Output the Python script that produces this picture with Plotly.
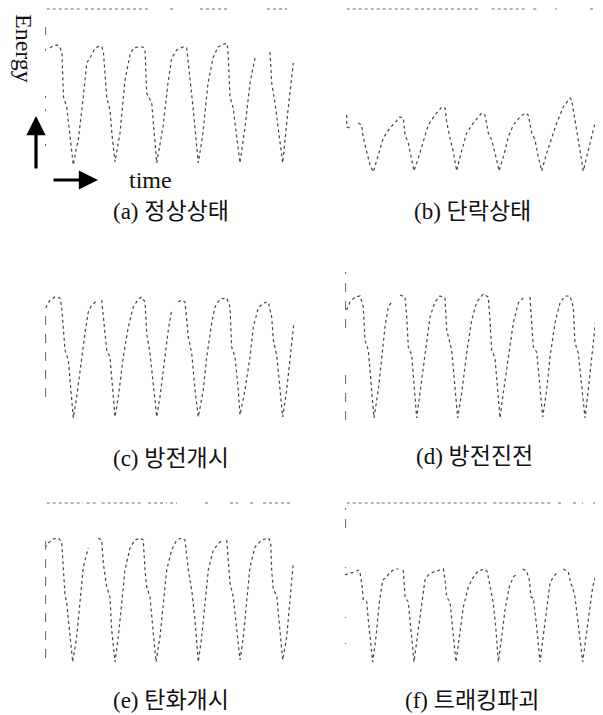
import plotly.graph_objects as go

# ---------------- data (time, energy) per panel; None = gap in the trace ----------------
A_TIME = [5, 8, 12, 15, 17, 18.5, 21.7, 25, 28.3, 31, 33.3, 38.3, 41.7, 46.7, 50, 55, 57, 58.5, 61.7, 65, 67, 70,
          75, 80, 85, 88.3, 93, 98, 100, 101.7, 106.7, 111.7, 118, 123, 126.7, 131.7, 138, 141.7, 143, 146.7, 148, 153.3,
          158, 163, 168, 173, 181.7, 183, 185, 188, 195, 200, 205, 210, None, 225, 226.7, 230, 237.7, 243, 248.3]
A_ENERGY = [127, 129, 130, 128, 121, 78, 68, 40, 10, 25, 35, 78, 112, 120, 127, 129, 128, 122, 78, 65, 40, 13,
            42, 95, 120, 127, 128, 128, 125, 82, 72, 12, 48, 92, 117, 125, 128, 127, 115, 75, 68, 12,
            42, 92, 117, 128, 132, 125, 78, 68, 12, 48, 92, 117, None, 123, 92, 72, 12, 65, 112]

B_TIME = [1.7, 1.7, 5, None, 13.3, 16.7, 18.3, 21.7, 25, 28.3, 33.3, 38.3, 45, 51.7, 55, 58.3, 60, 63.3, 66.7, 69,
          73.3, 78.3, 83.3, 90, 96.7, 100, 101.7, 105, 108.3, 111.7, 115, 121.7, 128.3, 136.7, 140, 143.3, 146.7, 151.7, 154,
          158.3, 163.3, 168.3, 175, 180, 183.3, 186.7, 190, 193.3, 196.7, 201.7, 206.7, 211.7, 218.3, 225, 226.7, 230, 233.3,
          236.7, 238.3, 241.7, 246.7, 250]
B_ENERGY = [60, 48, 47, None, 52, 50, 37, 23, 10, 3, 20, 37, 47, 55, 58, 57, 40, 32, 15, 4,
            17, 33, 50, 60, 68, 67, 53, 37, 23, 4, 18, 42, 52, 62, 60, 42, 35, 15, 4,
            18, 38, 50, 58, 62, 60, 42, 35, 18, 4, 22, 38, 52, 68, 77, 75, 55, 35,
            12, 4, 18, 38, 52]

C_TIME = [0.7, 5, 10, 15, 16.7, 18.3, 20, 23.3, 26.7, 28.3, 31.7, 36.7, 40, 43.3, 46.7, 51.7, None, 56.7, 58.3, 61.7, 65,
          68.3, 70, 73.3, 78.3, 83.3, 88.3, 93.3, 96.7, 100, 101.7, 105, 108.3, 111.7, 115, 120, 123.3, 126.7, None, 133.3,
          136.7, 140, 143.3, 146.7, 150, 153.3, 158.3, 161.7, 166.7, 170, 175, 181.7, 185, 186.7, 190, 193.3, 195, 200, 205,
          208.3, 213.3, 218.3, 223.3, 226.7, 228.3, 231.7, 235, 237.7, 241.7, 245, 249]
C_ENERGY = [117, 125, 128, 127, 118, 98, 75, 65, 28, 7, 28, 68, 92, 113, 120, 124, None, 125, 108, 75, 68,
            32, 8, 28, 68, 98, 118, 126, 128, 123, 92, 72, 38, 8, 28, 68, 95, 115, None, 123,
            125, 123, 88, 72, 35, 8, 35, 68, 102, 118, 126, 127, 118, 78, 68, 35, 10, 35, 68,
            98, 117, 122, 123, 108, 85, 70, 35, 8, 35, 68, 103]

D_TIME = [1.7, 5, 10, 15, 18.3, 20, 23.3, 26.7, 29, 33.3, 36.7, 40, 43.3, 46.7, None, 55, 60, 61.7, 63.3, 66.7, 70,
          71.7, 75, 80, 85, 90, 95, 100, 101.7, 106.7, 110, 112.7, 116.7, 121.7, 126.7, 131.7, 138.3, 143.3, 145, 146.7,
          150, 153.3, 155, 158.3, 163.3, 168.3, 173.3, 178.3, None, 185, 186.7, 188.3, 191.7, 195, 197.7, 201.7, 205, 210,
          215, 220, 225, 228.3, 230, 233.3, 236.7, 240, 243.3, 246.7, 250.7]
D_ENERGY = [115, 123, 128, 129, 118, 85, 75, 35, 7, 35, 68, 98, 118, 123, None, 130, 128, 108, 78, 70, 32,
            7, 32, 72, 108, 123, 129, 127, 95, 75, 35, 7, 32, 72, 105, 123, 131, 128, 105, 75,
            67, 32, 7, 32, 68, 102, 122, 127, None, 128, 105, 78, 73, 35, 8, 35, 68, 102,
            122, 129, 129, 118, 82, 72, 35, 7, 35, 68, 105]

E_TIME = [0, 3.3, 8.3, 13.3, 16.7, 18.3, 20, 21.7, 25, 27.7, 31.7, 35, 38.3, 43.3, None, 53.3, 56.7, 58.3, 61.7, 65,
          66.7, 70, 73.3, 76.7, 80, 85, 90, 95, 98.3, 100, 101.7, 105, 108.3, 111, 115, 118.3, 121.7, 126.7, 131.7, 136.7,
          140, 143.3, 146.7, 150, 153.3, 156.7, 160, 163.3, 168.3, 175, 177.7, None, 181.7, 183.3, 185, 188.3, 191.7, 195,
          198.3, 201.7, 205, 210, 216.7, 223.3, 225.7, 226.7, 228.3, 231.7, 235, 237.7, 241.7, 245, 248.3]
E_ENERGY = [120, 125, 129, 130, 126, 98, 73, 65, 31, 6, 31, 65, 101, 120, None, 130, 128, 105, 81, 71,
            38, 6, 31, 65, 98, 120, 128, 130, 128, 98, 81, 71, 38, 6, 31, 65, 98, 118, 128, 130,
            128, 98, 78, 48, 6, 31, 65, 98, 118, 126, 128, None, 128, 105, 85, 71, 38, 8,
            31, 71, 101, 121, 128, 130, 126, 98, 78, 73, 38, 8, 31, 65, 105]

F_TIME = [0, 5, 10, 13.3, 15, 16.7, 18.3, 21.7, 23.3, 27.7, 31, 34.3, 37.7, 41.7, 45, 50, 53.3, None, 58.3, 60, 63.3,
          65, 69, 72.3, 75.7, 80, 83.3, 88.3, 95, 98.3, 100, 101.7, 105, 107.7, 111, 114.3, 118.3, 123.3, 128.3, 133.3,
          140, 142.3, 145, 146.7, 148.3, 151, 153.3, 156.7, 160, 164.3, 168.3, 171.7, None, 177.7, 181.7, 184.3, 186, 188.3,
          191.7, 195, 198.3, 201.7, 205, 208.3, 211.7, None, 218.3, 223.3, 225.7, 227.7, 230, 233.3, 237.7, 241, 244.3,
          247.7, 250]
F_ENERGY = [93, 95, 96, 98, 95, 85, 68, 66, 48, 6, 31, 65, 88, 91, 96, 99, 99, None, 98, 71, 66,
            48, 6, 31, 58, 88, 93, 96, 98, 99, 88, 71, 66, 41, 6, 31, 61, 81, 91, 97,
            99, 96, 81, 70, 65, 38, 6, 31, 58, 81, 91, 94, None, 99, 97, 88, 71, 70,
            41, 6, 31, 61, 85, 91, 95, None, 99, 96, 85, 80, 71, 41, 6, 31, 58,
            81, 90]

# broken top frame lines (time segments)
A_TOP = [(1.7, 35), (40, 103), (125, 128), (155, 182), (222, 242)]
B_TOP = [(1.7, 65), (70, 135), (146.7, 181.7), (188.3, 191.7), (210, 211.7), (245, 248.3)]
E_TOP = [(1.7, 38), (41.7, 51.7), (56.7, 98), (103, 122), (125, 132), (160, 163), (185, 193), (205, 208), (218, 248)]
F_TOP = [(1.7, 35), (36.7, 143.3), (148.3, 208.3), (213, 217), (228, 232), (237, 238), (248, 252)]

# broken left frame lines (energy segments)
A_LEFT = [(140, 148), (124, 126), (77, 79), (64, 66), (29, 31)]
C_LEFT = [(28, 118)]
D_LEFT = [(97, 153), (5, 52)]
E_LEFT = [(10, 130)]
F_LEFT = [(140, 160), (100, 101), (50, 51), (24, 25)]

CAPTIONS = ["(a) 정상상태", "(b) 단락상태", "(c) 방전개시", "(d) 방전진전", "(e) 탄화개시", "(f) 트래킹파괴"]

# ---------------- layout helpers ----------------
OFF = 8                      # default page margin of the html body
W, H = 603 - OFF, 715 - OFF


def px(p):
    return (p - OFF) / W


def py(p):
    return 1 - (p - OFF) / H


COLX = [(45, 297), (345, 597)]
ROWY = [(0, 175), (250, 425), (493, 668)]
XR = [0, 252]
YR = [0, 175]

fig = go.Figure()

panels = [
    (A_TIME, A_ENERGY, A_TOP, 166, A_LEFT),
    (B_TIME, B_ENERGY, B_TOP, 166, []),
    (C_TIME, C_ENERGY, [], None, C_LEFT),
    (D_TIME, D_ENERGY, [], None, D_LEFT),
    (E_TIME, E_ENERGY, E_TOP, 165, E_LEFT),
    (F_TIME, F_ENERGY, F_TOP, 165, F_LEFT),
]

for i, (tt, ee, top, toplev, left) in enumerate(panels):
    r, c = divmod(i, 2)
    n = "" if i == 0 else str(i + 1)
    xa, ya = "x" + n, "y" + n
    x0, x1 = COLX[c]
    y0, y1 = ROWY[r]
    y0c = max(y0, OFF)
    yr = [0, YR[1] - (y0c - y0)]
    fig.layout["xaxis" + n] = dict(domain=[px(x0), px(x1)], range=XR, visible=False, anchor=ya, fixedrange=True)
    fig.layout["yaxis" + n] = dict(domain=[py(y1), py(y0c)], range=yr, visible=False, anchor=xa, fixedrange=True)

    fig.add_trace(go.Scatter(x=tt, y=ee, mode="lines", xaxis=xa, yaxis=ya, connectgaps=False,
                             line=dict(color="#444", width=1.2, dash="dot"), hoverinfo="skip", showlegend=False))
    if top:
        tx, ty = [], []
        for s, e in top:
            tx += [s, e, None]
            ty += [toplev, toplev, None]
        fig.add_trace(go.Scatter(x=tx, y=ty, mode="lines", xaxis=xa, yaxis=ya,
                                 line=dict(color="#666", width=1.0, dash="dot"), hoverinfo="skip", showlegend=False))
    if left:
        lx, ly = [], []
        for s, e in left:
            lx += [0.6, 0.6, None]
            ly += [s, e, None]
        fig.add_trace(go.Scatter(x=lx, y=ly, mode="lines", xaxis=xa, yaxis=ya,
                                 line=dict(color="#666", width=1.0, dash="dash"), hoverinfo="skip", showlegend=False))

SERIF = "Liberation Serif, Noto Sans CJK KR"
cap_pos = [(171, 212), (472, 212), (171, 458), (474, 457), (171, 700), (472, 700)]
annots = []
for txt, (cx, cy) in zip(CAPTIONS, cap_pos):
    annots.append(dict(text=txt, x=px(cx), y=py(cy), xref="paper", yref="paper", showarrow=False,
                       xanchor="center", yanchor="middle", font=dict(family=SERIF, size=23, color="#111")))

annots.append(dict(text="Energy", x=px(24), y=py(48), xref="paper", yref="paper", showarrow=False,
                   textangle=90, xanchor="center", yanchor="middle",
                   font=dict(family="Liberation Serif", size=24, color="#111")))
annots.append(dict(text="time", x=px(150), y=py(180), xref="paper", yref="paper", showarrow=False,
                   xanchor="center", yanchor="middle",
                   font=dict(family="Liberation Serif", size=24, color="#111")))
annots.append(dict(text="", x=px(36), y=py(116), xref="paper", yref="paper", showarrow=True,
                   ax=0, ay=54, arrowhead=2, arrowsize=1.2, arrowwidth=3.2, arrowcolor="#000"))
annots.append(dict(text="", x=px(98), y=py(180), xref="paper", yref="paper", showarrow=True,
                   ax=-46, ay=0, arrowhead=2, arrowsize=1.2, arrowwidth=3.2, arrowcolor="#000"))

fig.update_layout(width=W, height=H, margin=dict(l=0, r=0, t=0, b=0),
                  paper_bgcolor="white", plot_bgcolor="white", annotations=annots, showlegend=False)

fig.write_html("out.html")
